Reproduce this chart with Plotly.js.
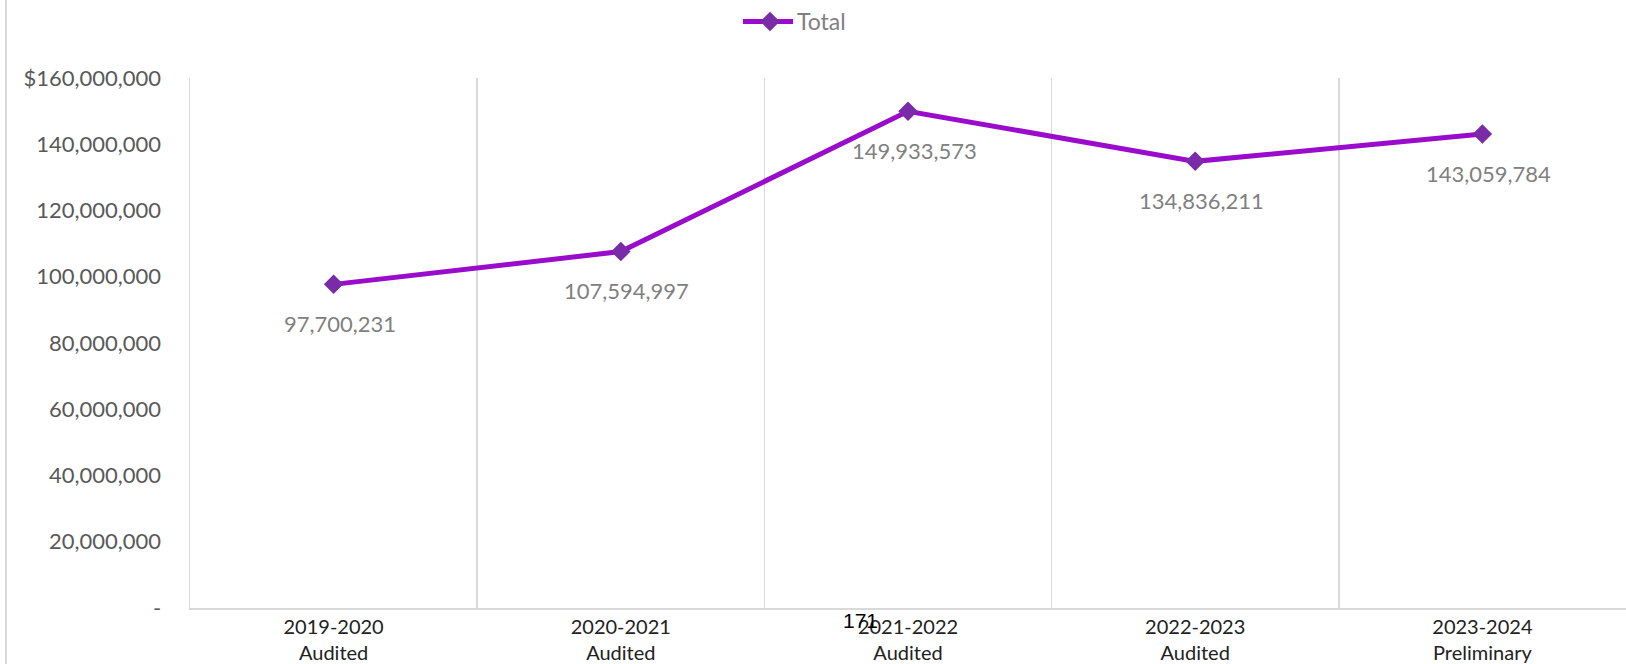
<!DOCTYPE html>
<html>
<head>
<meta charset="utf-8">
<script src="https://cdn.plot.ly/plotly-3.0.1.min.js"></script>
<style>
html,body{margin:0;padding:0;background:#fff;}
#chart{width:1626px;height:664px;}
</style>
</head>
<body>
<div id="chart"></div>
<script>
const categories = ["2019-2020<br>Audited", "2020-2021<br>Audited", "2021-2022<br>Audited", "2022-2023<br>Audited", "2023-2024<br>Preliminary"];
const totals = [97700231, 107594997, 149933573, 134836211, 143059784];
const yTickVals = [0, 20000000, 40000000, 60000000, 80000000, 100000000, 120000000, 140000000, 160000000];
const yTickText = ["-", "20,000,000", "40,000,000", "60,000,000", "80,000,000", "100,000,000", "120,000,000", "140,000,000", "$160,000,000"];
const seriesName = "Total";
const pageNumber = "171";

const fmt = v => v.toLocaleString('en-US');
const FONT = "Lato, 'Open Sans', sans-serif";
const L = 190, R = 1626, T = 75, B = 608;
const px = x => (x - L) / (R - L);
const py = y => (B - y) / (B - T);

const trace = {
  x: categories,
  y: totals,
  type: 'scatter',
  mode: 'lines+markers',
  name: seriesName,
  line: {color: '#9A0CCB', width: 5},
  marker: {symbol: 'diamond', size: 15, color: '#7A2BA8', line: {width: 0}},
  hoverinfo: 'skip'
};

const annotations = totals.map((v, i) => ({
  x: categories[i], y: v, xref: 'x', yref: 'y',
  text: fmt(v), showarrow: false, yshift: -39, xshift: 6,
  font: {family: FONT, size: 22, color: '#808080'}
}));
annotations.push({
  x: px(860), y: py(621), xref: 'paper', yref: 'paper', yanchor: 'middle',
  text: pageNumber, showarrow: false,
  font: {family: "'Liberation Sans', Arial, sans-serif", size: 21, color: '#000'}
});

const layout = {
  width: 1626, height: 664,
  margin: {l: L, r: 0, t: T, b: 664 - B, pad: 0},
  paper_bgcolor: '#fff', plot_bgcolor: '#fff',
  showlegend: true,
  legend: {
    orientation: 'h', x: px(743), xanchor: 'left', xref: 'paper',
    y: py(18), yanchor: 'middle',
    font: {family: FONT, size: 23, color: '#808080'},
    itemwidth: 44, bgcolor: 'rgba(0,0,0,0)'
  },
  xaxis: {
    type: 'category', range: [-0.5, 4.5],
    tickson: 'boundaries', showgrid: true, gridcolor: '#d9d9d9', gridwidth: 1.5,
    showline: true, linecolor: '#d9d9d9', linewidth: 2,
    ticks: '', tickfont: {family: FONT, size: 20, color: '#222'},
    zeroline: false, fixedrange: true
  },
  yaxis: {
    range: [0, 160000000], tickvals: yTickVals, ticktext: yTickText,
    showgrid: false, zeroline: false,
    showline: true, linecolor: '#d9d9d9', linewidth: 1.5,
    ticks: 'outside', ticklen: 0, ticklabelstandoff: 23,
    tickfont: {family: FONT, size: 22, color: '#595959'}, fixedrange: true
  },
  annotations: annotations,
  shapes: [{
    type: 'line', xref: 'paper', yref: 'paper',
    x0: px(6), x1: px(6), y0: -1, y1: 2, line: {color: '#d9d9d9', width: 2}
  }]
};

Plotly.newPlot('chart', [trace], layout, {displayModeBar: false, staticPlot: true}).then(gd => {
  // lengthen the legend line symbol like the reference (marker in the middle)
  gd.querySelectorAll('.legendlines path').forEach(p => p.setAttribute('d', 'M-10,0h60'));
});
</script>
</body>
</html>
